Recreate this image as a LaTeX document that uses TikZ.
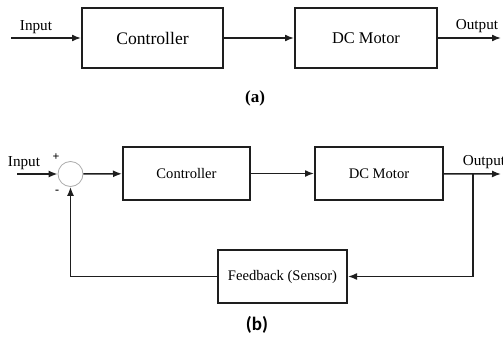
\documentclass[tikz,border=0pt]{standalone}
\usepackage{fontspec}
\setmainfont{Liberation Serif}
\newfontfamily\capsans{Carlito}
\usetikzlibrary{arrows.meta, positioning}

\definecolor{linegray}{RGB}{30, 30, 30}
\definecolor{sumgray}{RGB}{170, 170, 170}

\tikzset{
  block/.style={draw=linegray, line width=1pt, fill=white, inner sep=0pt},
  sig/.style={-{Latex[length=4.5pt, width=3.5pt]}, line width=0.75pt, draw=linegray},
  wire/.style={line width=0.75pt, draw=linegray},
  lbl/.style={font=\fontsize{7.6}{8}\selectfont, inner sep=0pt}
}

\begin{document}
\begin{tikzpicture}[x=0.5pt, y=-0.5pt]
  \useasboundingbox (0,0) rectangle (503,337);

  % (a) open loop
  \begin{scope}
    \coordinate (inA) at (11,38);
    \coordinate (outA) at (501,38);
    \node[block, minimum width=70.5pt, minimum height=30pt, font=\fontsize{8.8}{10}\selectfont] (ctrlA) at (152.5,38) {Controller};
    \node[block, minimum width=71pt, minimum height=30pt, font=\fontsize{8.2}{10}\selectfont] (motorA) at (366,38) {DC Motor};

    \draw[sig] (inA) -- (ctrlA);
    \draw[sig] (ctrlA) -- (motorA);
    \draw[sig] (motorA) -- (outA);

    \node[lbl] (inlblA) at (36,27) {Input};
    \node[lbl] (outlblA) at (477,26) {Output};
    \node[font=\fontsize{8.5}{10}\selectfont\bfseries] (capA) at (255,98) {(a)};
  \end{scope}

  % (b) closed loop with sensor
  \begin{scope}
    \coordinate (inB) at (17,174);
    \coordinate (outB) at (501,174);
    \coordinate (tap) at (473,174);
    \node[circle, draw=sumgray, line width=0.4pt, fill=white, minimum size=12.5pt, inner sep=0pt] (sum) at (70.5,174) {};
    \node[block, minimum width=63.5pt, minimum height=26.5pt, font=\fontsize{7.3}{9}\selectfont] (ctrlB) at (186.5,173.5) {Controller};
    \node[block, minimum width=64pt, minimum height=26.5pt, font=\fontsize{7.3}{9}\selectfont] (motorB) at (379,173.5) {DC Motor};
    \node[block, minimum width=64.5pt, minimum height=26.5pt, font=\fontsize{7.3}{9}\selectfont] (fbB) at (282.5,276.5) {Feedback (Sensor)};

    \draw[sig] (inB) -- (sum);
    \draw[sig] (sum) -- (ctrlB);
    \draw[sig] (ctrlB) -- (motorB);
    \draw[sig] (motorB) -- (outB);
    \draw[sig] (tap) |- (fbB);
    \draw[sig] (fbB) -| (sum);

    \node[lbl] (inlblB) at (24,163) {Input};
    \node[lbl] (outlblB) at (484,162) {Output};
    \node[font=\fontsize{6}{6}\selectfont\bfseries, inner sep=0pt] (plus) at (56,157) {+};
    \node[font=\fontsize{6}{6}\selectfont\bfseries, inner sep=0pt] (minus) at (57,192) {-};
    \node[font=\fontsize{9.5}{11}\selectfont\capsans\bfseries] (capB) at (257,325) {(b)};
  \end{scope}
\end{tikzpicture}
\end{document}
